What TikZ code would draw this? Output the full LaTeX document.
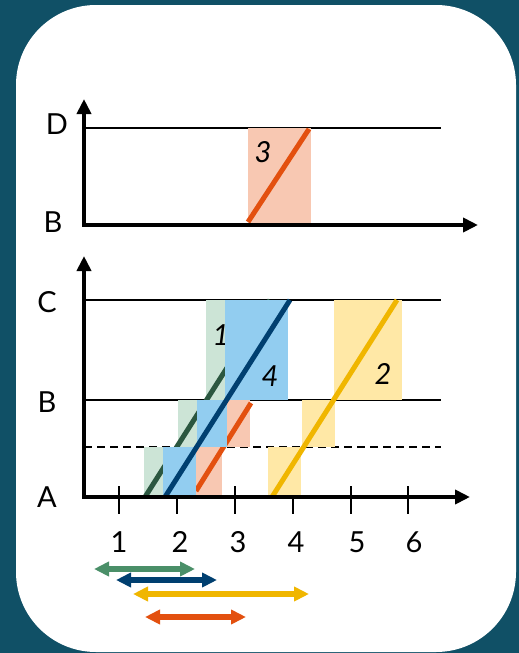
\documentclass[tikz,border=0pt]{standalone}
\usepackage{fontspec}
\setmainfont{Lato}
\usetikzlibrary{positioning,arrows.meta,calc}
\definecolor{bg}{HTML}{105066}
\definecolor{grlt}{HTML}{CCE4D6}
\definecolor{grdk}{HTML}{2B5740}
\definecolor{grar}{HTML}{4A8F68}
\definecolor{bllt}{HTML}{92CDF0}
\definecolor{bldk}{HTML}{003F70}
\definecolor{orlt}{HTML}{F8C8B2}
\definecolor{ordk}{HTML}{E3500F}
\definecolor{yelt}{HTML}{FFE8A6}
\definecolor{yedk}{HTML}{F0B600}
\begin{document}
\begin{tikzpicture}[x=1pt, y=-1pt, >={Triangle[length=15pt,width=14pt]},
      font=\fontsize{29}{34}\selectfont,
      ax/.style={line width=4.5pt, <->},
      lvl/.style={line width=1.4pt},
      tk/.style={line width=1.8pt},
      lab/.style={inner sep=0pt},
      num/.style={inner sep=0pt, font=\fontsize{29}{34}\selectfont\itshape},
      sl/.style={line width=5pt},
      dbl/.style={line width=5.5pt, <->}]
      % frame
      \fill[bg] (0,0) rectangle (519,653);
      \fill[white, rounded corners=80pt] (16,5) rectangle (516,652);

      % upper chart: B to D
      \coordinate (o1) at (84,225); \coordinate (y1) at (84,99); \coordinate (x1) at (478,225);
      \draw[lvl] (84,128) -- (441,128);
      \fill[orlt] (248,128) rectangle (311,223);
      \draw[sl, ordk] (248,222) -- (309,129);
      \node[num] (n3) at (263,152) {3};
      \draw[ax] (y1) -- (o1) -- (x1);
      \node[lab] (d) at (57,124) {D};
      \node[lab] (b1) at (53,222) {B};

      % lower chart: A to C
      \coordinate (o2) at (84,497); \coordinate (y2) at (84,256); \coordinate (x2) at (470,497);
      \draw[lvl] (84,300) -- (441,300); \draw[lvl] (84,400) -- (441,400);
      \draw[lvl, dash pattern=on 8pt off 5pt] (84,447) -- (441,447);
      \foreach \t in {119,177,235,293,351,408} \draw[tk] (\t,486) -- (\t,514);

      % green
      \fill[grlt] (144,447) rectangle (163,497); \fill[grlt] (178,400) rectangle (197,447);
      \fill[grlt] (206,300) rectangle (225,400);
      \draw[sl, grdk] (145,497) -- (270,300);
      \node[num] (n1) at (221,335) {1};
      % orange
      \fill[orlt] (196,447) rectangle (222,497); \fill[orlt] (227,400) rectangle (250,447);
      \draw[sl, ordk] (196,491) -- (251,403);
      % blue
      \fill[bllt] (163,447) rectangle (196,497); \fill[bllt] (197,400) rectangle (227,447);
      \fill[bllt] (225,300) rectangle (288,400);
      \draw[sl, bldk] (165,497) -- (290,300);
      \node[num] (n4) at (270,376) {4};
      % yellow
      \fill[yelt] (268,447) rectangle (301,497); \fill[yelt] (302,400) rectangle (335,447);
      \fill[yelt] (334,300) rectangle (402,400);
      \draw[sl, yedk] (272,497) -- (397,300);
      \node[num] (n2) at (383,374) {2};

      \draw[ax] (y2) -- (o2) -- (x2);
      \node[lab] (c) at (47,302) {C};
      \node[lab] (b2) at (47,402) {B};
      \node[lab] (a) at (47,497) {A};
      \foreach \v/\p in {1/119,2/180,3/238,4/296,5/357,6/414} \node[lab] (t\v) at (\p,542) {\v};

      % durations
      \coordinate (g1) at (94,569); \coordinate (g2) at (195,569);
      \coordinate (b1a) at (116,580); \coordinate (b1b) at (217,580);
      \coordinate (y1a) at (133,594); \coordinate (y1b) at (309,594);
      \coordinate (o1a) at (145,617); \coordinate (o1b) at (246,617);
      \draw[dbl, grar] (g1) -- (g2);
      \draw[dbl, bldk] (b1a) -- (b1b);
      \draw[dbl, yedk] (y1a) -- (y1b);
      \draw[dbl, ordk] (o1a) -- (o1b);
    \end{tikzpicture}
\end{document}
